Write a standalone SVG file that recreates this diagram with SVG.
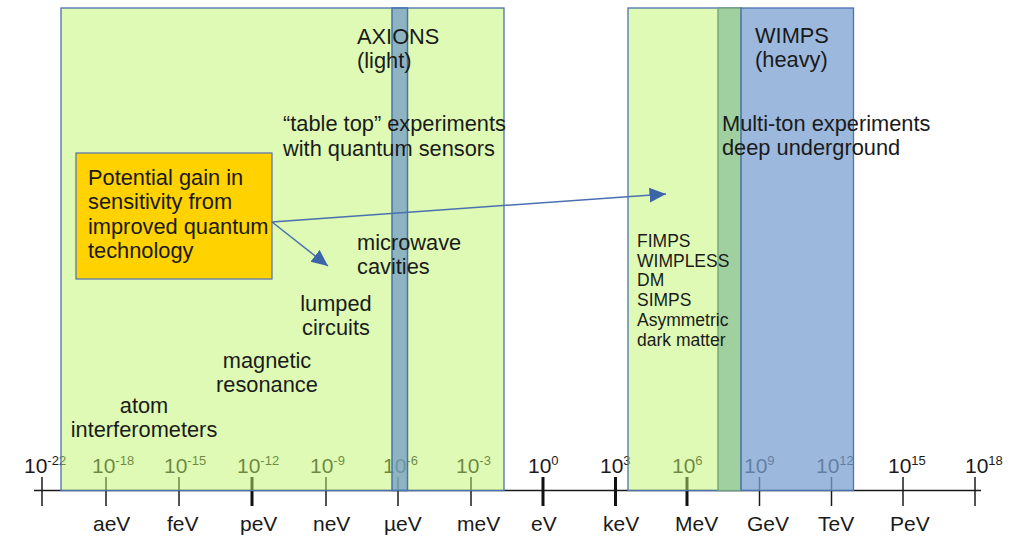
<svg xmlns="http://www.w3.org/2000/svg" width="1030" height="537" viewBox="0 0 1030 537">
<defs>
<style>
text{font-family:"Liberation Sans",Arial,sans-serif;fill:#1a1a1a}
.t{font-size:21.8px}
.a{font-size:21px}
.s{font-size:17.5px}
.sup{font-size:13px}
.tk{stroke:#1a1a1a;stroke-width:1.5}
.tkb{stroke:#111;stroke-width:3}
.green{fill:#bdf569;fill-opacity:0.5;stroke:#4a72b0;stroke-width:1.3}
.blue{fill:#7ba0d0;fill-opacity:0.75;stroke:#4a72b0;stroke-width:1.3}
.strip{fill:#6f99c8;fill-opacity:0.72;stroke:#4a72b0;stroke-width:1.5}
.dg{fill:#a0d0a0;stroke:#6f9f78;stroke-width:1.3}
.conn{stroke:#4a70b0;stroke-width:1.5;fill:none}
</style>
<marker id="ah" viewBox="0 0 10 10" refX="10" refY="5" markerWidth="11" markerHeight="11" markerUnits="strokeWidth" orient="auto">
<path d="M0,0.5 L10,5 L0,9.5 z" fill="#3c64a8"/>
</marker>
</defs>
<rect width="1030" height="537" fill="#ffffff"/>

<g id="axis">
<line x1="34" y1="490.5" x2="981" y2="490.5" stroke="#1a1a1a" stroke-width="1.5"/>
<line class="tk" x1="42" y1="477" x2="42" y2="506"/>
<line class="tk" x1="106" y1="477" x2="106" y2="506"/>
<line class="tk" x1="179" y1="477" x2="179" y2="506"/>
<line class="tkb" x1="252" y1="477" x2="252" y2="506"/>
<line class="tk" x1="326" y1="477" x2="326" y2="506"/>
<line class="tk" x1="398" y1="477" x2="398" y2="506"/>
<line class="tk" x1="471" y1="477" x2="471" y2="506"/>
<line class="tkb" x1="543" y1="477" x2="543" y2="506"/>
<line class="tkb" x1="615.5" y1="477" x2="615.5" y2="506"/>
<line class="tkb" x1="687" y1="477" x2="687" y2="506"/>
<line class="tk" x1="759.5" y1="477" x2="759.5" y2="506"/>
<line class="tk" x1="831.5" y1="477" x2="831.5" y2="506"/>
<line class="tk" x1="903" y1="477" x2="903" y2="506"/>
<line class="tk" x1="975" y1="477" x2="975" y2="506"/>
<g class="a">
<text x="24" y="473">10<tspan class="sup" dy="-8">-22</tspan></text>
<text x="92" y="473">10<tspan class="sup" dy="-8">-18</tspan></text>
<text x="164" y="473">10<tspan class="sup" dy="-8">-15</tspan></text>
<text x="237" y="473">10<tspan class="sup" dy="-8">-12</tspan></text>
<text x="310" y="473">10<tspan class="sup" dy="-8">-9</tspan></text>
<text x="383" y="473">10<tspan class="sup" dy="-8">-6</tspan></text>
<text x="456" y="473">10<tspan class="sup" dy="-8">-3</tspan></text>
<text x="528" y="473">10<tspan class="sup" dy="-8">0</tspan></text>
<text x="600" y="473">10<tspan class="sup" dy="-8">3</tspan></text>
<text x="672" y="473">10<tspan class="sup" dy="-8">6</tspan></text>
<text x="744" y="473">10<tspan class="sup" dy="-8">9</tspan></text>
<text x="816" y="473">10<tspan class="sup" dy="-8">12</tspan></text>
<text x="888" y="473">10<tspan class="sup" dy="-8">15</tspan></text>
<text x="965" y="473">10<tspan class="sup" dy="-8">18</tspan></text>
</g>
<g class="a">
<text x="93" y="531">aeV</text>
<text x="167" y="531">feV</text>
<text x="240" y="531">peV</text>
<text x="313" y="531">neV</text>
<text x="384" y="531">µeV</text>
<text x="457" y="531">meV</text>
<text x="531" y="531">eV</text>
<text x="603" y="531">keV</text>
<text x="675" y="531">MeV</text>
<text x="747" y="531">GeV</text>
<text x="818" y="531">TeV</text>
<text x="890" y="531">PeV</text>
</g>
</g>

<g id="axion-region">
<rect class="green" x="61" y="8" width="443" height="482.5"/>
</g>
<g id="axion-strip">
<rect class="strip" x="392" y="8" width="15.5" height="482.5"/>
</g>
<g id="light-dm-region">
<rect class="green" x="628" y="8" width="113" height="482.5"/>
</g>
<g id="overlap-strip">
<rect class="dg" x="718" y="8" width="23" height="482.5"/>
</g>
<g id="wimp-region">
<rect class="blue" x="741" y="8" width="112.5" height="482.5"/>
</g>

<g id="axion-labels" class="t">
<text x="357" y="44">AXIONS</text>
<text x="357" y="68">(light)</text>
<text x="283" y="131">“table top” experiments</text>
<text x="283" y="156">with quantum sensors</text>
<text x="357" y="250">microwave</text>
<text x="357" y="274">cavities</text>
<text x="336" y="311" text-anchor="middle">lumped</text>
<text x="336" y="335" text-anchor="middle">circuits</text>
<text x="267" y="368" text-anchor="middle">magnetic</text>
<text x="267" y="392" text-anchor="middle">resonance</text>
<text x="144" y="413" text-anchor="middle">atom</text>
<text x="144" y="437" text-anchor="middle">interferometers</text>
</g>

<g id="wimp-labels" class="t">
<text x="755" y="43">WIMPS</text>
<text x="755" y="67">(heavy)</text>
<text x="722" y="131">Multi-ton experiments</text>
<text x="722" y="155">deep underground</text>
</g>

<g id="light-dm-labels" class="s">
<text x="637" y="247">FIMPS</text>
<text x="637" y="267">WIMPLESS</text>
<text x="637" y="286">DM</text>
<text x="637" y="306">SIMPS</text>
<text x="637" y="326">Asymmetric</text>
<text x="637" y="346">dark matter</text>
</g>

<g id="gain-box">
<rect x="76" y="153" width="196" height="126" fill="#ffd200" stroke="#5a7ab0" stroke-width="1.3"/>
<g class="t">
<text x="88" y="185">Potential gain in</text>
<text x="88" y="209">sensitivity from</text>
<text x="88" y="234">improved quantum</text>
<text x="88" y="258">technology</text>
</g>
</g>

<g id="connectors">
<line class="conn" x1="272" y1="222" x2="328" y2="266" marker-end="url(#ah)"/>
<line class="conn" x1="272" y1="222" x2="666" y2="194" marker-end="url(#ah)"/>
</g>
</svg>
